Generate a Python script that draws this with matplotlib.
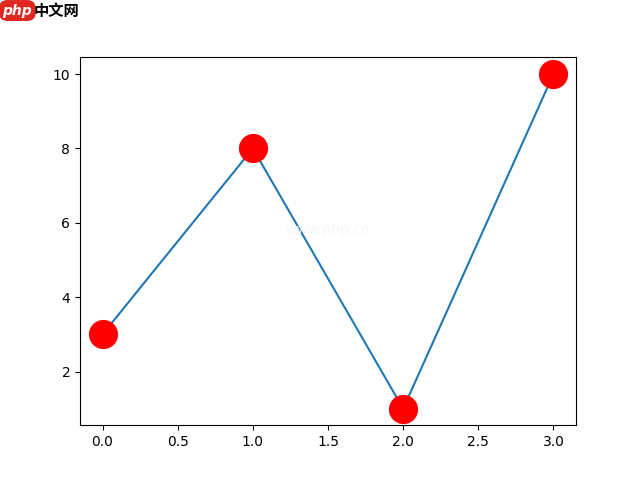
import matplotlib
matplotlib.use("Agg")
import matplotlib.pyplot as plt

x = [0, 1, 2, 3]
y = [3, 8, 1, 10]

fig, ax = plt.subplots(figsize=(6.4, 4.78), dpi=100)
ax.plot(x, y, color="#1f77b4")
ax.plot(x, y, "o", color="red", markersize=20, linestyle="none")

# watermark logo at top-left
fig.text(0.004, 0.978, "php", color="white", fontsize=10, style="italic",
         fontweight="bold", va="center", ha="left",
         bbox=dict(boxstyle="round,pad=0.25,rounding_size=0.6", fc="#e0271f", ec="none"))
fig.text(0.052, 0.978, "中文网", color="black", fontsize=11, va="center", ha="left",
         family=["Noto Sans CJK SC", "DejaVu Sans"], fontweight="bold")
ax.text(0.5, 0.53, "www.php.cn", color="#f4f8fb", fontsize=10, transform=ax.transAxes,
        ha="center", va="center")

fig.savefig("out.png", dpi=100)
